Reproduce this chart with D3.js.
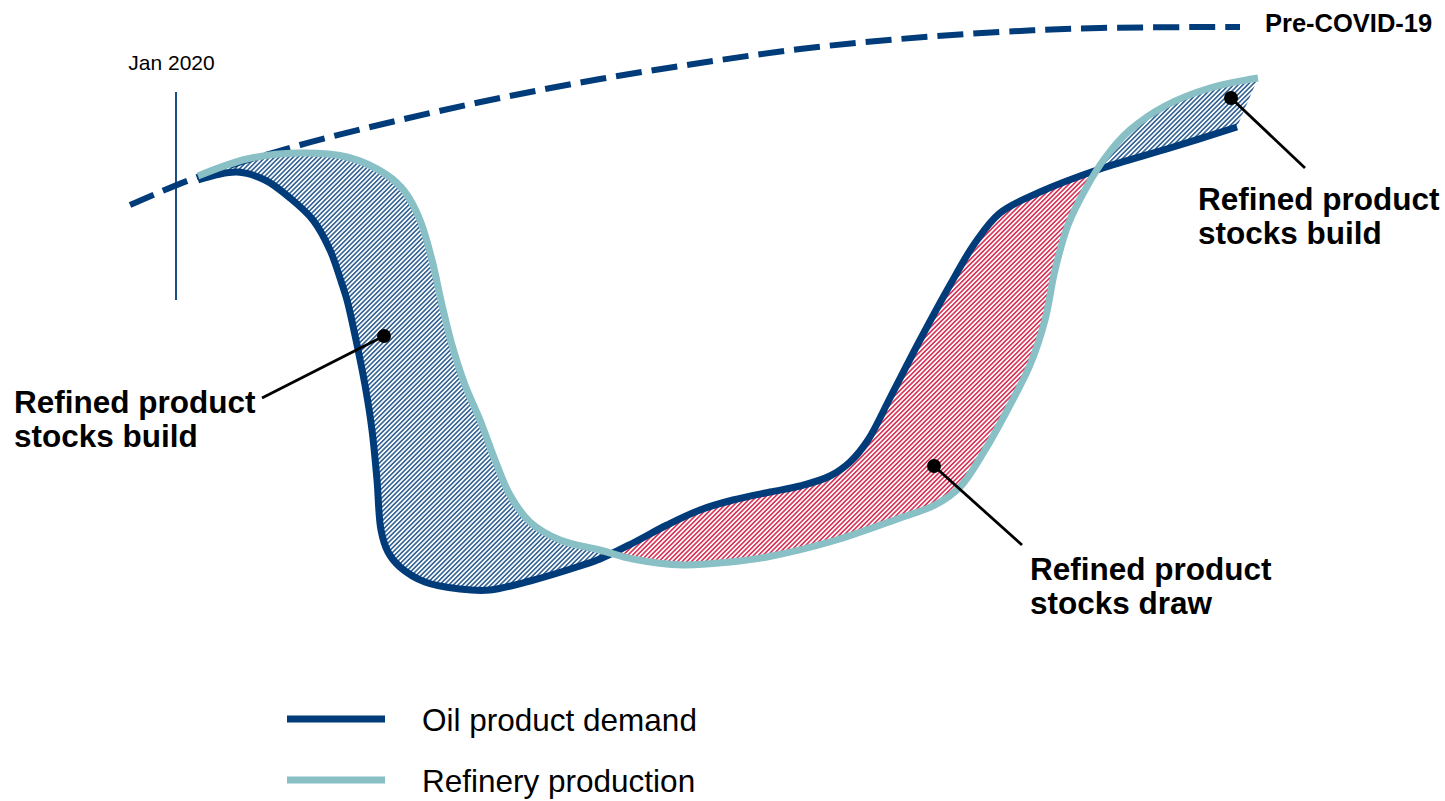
<!DOCTYPE html>
<html>
<head>
<meta charset="utf-8">
<script src="https://cdn.jsdelivr.net/npm/d3@7"></script>
<style>
  body { margin: 0; background: #fff; }
  svg { display: block; font-family: "Liberation Sans", Arial, sans-serif; }
</style>
</head>
<body>
<div id="chart"></div>
<script>
// schematic: weeks since start vs. product volume index
var demandWeeks = [6.8, 10.7, 13.5, 16.0, 18.3, 20.0, 21.0, 21.7, 22.6, 23.5, 24.2, 24.7, 25.1, 25.8, 27.0, 29.5, 33.0, 36.0, 40.0, 45.0, 47.0, 50.3, 53.7, 57.0, 60.3, 64.0, 67.0, 70.0, 72.0, 73.8, 76.0, 79.0, 82.0, 84.5, 87.0, 91.0, 97.0, 104.0, 110.7];
var demandLevel = [42.0, 42.8, 42.0, 40.2, 38.0, 35.0, 32.2, 30.0, 26.0, 21.5, 17.0, 12.0, 7.0, 4.8, 3.3, 1.8, 1.1, 1.0, 1.9, 3.4, 4.1, 5.7, 7.5, 9.0, 10.0, 10.8, 11.4, 12.4, 13.8, 16.0, 20.2, 26.0, 31.5, 35.7, 38.7, 40.8, 43.1, 45.2, 47.3];

var refineryWeeks = [6.8, 11.7, 16.7, 21.7, 25.7, 27.5, 29.0, 30.2, 31.2, 32.2, 33.5, 35.0, 36.5, 38.0, 40.0, 43.0, 47.0, 50.3, 55.3, 60.0, 63.7, 70.3, 77.0, 80.5, 83.0, 85.5, 88.0, 90.0, 91.5, 92.5, 93.8, 95.5, 97.5, 100.0, 103.5, 108.0, 112.8];
var refineryLevel = [42.4, 44.1, 44.7, 44.3, 42.5, 40.8, 38.0, 34.0, 29.5, 25.5, 21.5, 18.0, 14.0, 10.5, 7.8, 6.0, 5.0, 4.1, 3.5, 3.8, 4.3, 5.9, 8.2, 9.5, 11.3, 15.0, 19.5, 23.5, 28.0, 33.0, 37.5, 41.0, 44.2, 47.0, 49.4, 51.2, 52.2];

var preCovidWeeks = [0, 7.0, 17.0, 27.0, 37.0, 47.0, 57.0, 67.0, 77.0, 87.0, 97.0, 111.0];
var preCovidLevel = [39.5, 42.4, 45.5, 48.0, 50.2, 52.1, 53.7, 55.1, 56.1, 56.8, 57.2, 57.3];

var jan2020Week = 4.6;
var jan2020Span = [30.0, 50.8];

// annotation dots (week, level) and their labels
var noteWeeks = [25.4, 80.4, 110.1];
var noteLevels = [26.4, 13.4, 50.2];
var noteLabels = [
  ["Refined product", "stocks build"],
  ["Refined product", "stocks draw"],
  ["Refined product", "stocks build"]
];

var legendLabels = ["Oil product demand", "Refinery production"];

var navy = "#003b7a", teal = "#88c0c6", red = "#d0002c";

var width = 1445, height = 801;
var x = d3.scaleLinear().domain([0, 113]).range([130, 1260]);
var y = d3.scaleLinear().domain([0, 58]).range([600, 20]);

var svg = d3.select("#chart").append("svg")
    .attr("width", width)
    .attr("height", height);

var defs = svg.append("defs");
function hatch(id, color) {
    var p = defs.append("pattern")
        .attr("id", id)
        .attr("patternUnits", "userSpaceOnUse")
        .attr("width", 3.3)
        .attr("height", 3.3)
        .attr("patternTransform", "rotate(45)");
    p.append("line")
        .attr("x1", 1.65).attr("y1", 0)
        .attr("x2", 1.65).attr("y2", 3.3)
        .attr("stroke", color)
        .attr("stroke-width", 1.3);
}
hatch("hatch-build", navy);
hatch("hatch-draw", red);

var line = d3.line()
    .x(function(d) { return x(d[0]); })
    .y(function(d) { return y(d[1]); })
    .curve(d3.curveCatmullRom.alpha(0.5));

var demand = d3.zip(demandWeeks, demandLevel);
var refinery = d3.zip(refineryWeeks, refineryLevel);
var preCovid = d3.zip(preCovidWeeks, preCovidLevel);

var lines = svg.append("g").attr("class", "lines");

// draw the two curves first so they can be sampled for the filled gap
var demandPath = lines.append("path")
    .attr("d", line(demand))
    .attr("fill", "none")
    .attr("stroke", navy)
    .attr("stroke-width", 7);
var refineryPath = lines.append("path")
    .attr("d", line(refinery))
    .attr("fill", "none")
    .attr("stroke", teal)
    .attr("stroke-width", 7);

function sample(path) {
    var node = path.node(), len = node.getTotalLength(), pts = [];
    for (var l = 0; l <= len; l += 1) {
        var p = node.getPointAtLength(l);
        pts.push([p.x, p.y]);
    }
    var e = node.getPointAtLength(len);
    pts.push([e.x, e.y]);
    return pts;
}
var dPts = sample(demandPath), rPts = sample(refineryPath);

function yAt(pts, px) {
    for (var i = 1; i < pts.length; i++) {
        var a = pts[i - 1], b = pts[i];
        if ((a[0] - px) * (b[0] - px) <= 0 && a[0] !== b[0]) {
            return a[1] + (b[1] - a[1]) * (px - a[0]) / (b[0] - a[0]);
        }
    }
    return null;
}

// find where the two curves swap sides
var x0 = Math.max(dPts[0][0], rPts[0][0]) + 5;
var x1 = Math.min(dPts[dPts.length - 1][0], rPts[rPts.length - 1][0]) - 1;
var crossings = [], prev = null;
for (var px = x0; px <= x1; px += 0.5) {
    var s = yAt(dPts, px) - yAt(rPts, px);
    if (prev !== null && s * prev < 0) crossings.push(px);
    prev = s;
}

var gap = "M" + dPts.concat(rPts.slice().reverse()).join("L") + "Z";

defs.append("clipPath").attr("id", "clip-draw")
    .append("rect")
    .attr("x", crossings[0]).attr("y", 0)
    .attr("width", crossings[1] - crossings[0]).attr("height", height);
var buildClip = defs.append("clipPath").attr("id", "clip-build");
buildClip.append("rect")
    .attr("x", 0).attr("y", 0)
    .attr("width", crossings[0]).attr("height", height);
buildClip.append("rect")
    .attr("x", crossings[1]).attr("y", 0)
    .attr("width", width - crossings[1]).attr("height", height);

var fills = svg.insert("g", ".lines").attr("class", "fills");
fills.append("path")
    .attr("d", gap)
    .attr("fill", "url(#hatch-build)")
    .attr("clip-path", "url(#clip-build)");
fills.append("path")
    .attr("d", gap)
    .attr("fill", "url(#hatch-draw)")
    .attr("clip-path", "url(#clip-draw)");

// pre-covid trend under the solid lines
lines.insert("path", ":first-child")
    .attr("d", line(preCovid))
    .attr("fill", "none")
    .attr("stroke", navy)
    .attr("stroke-width", 6)
    .attr("stroke-dasharray", "26 10");

svg.append("text")
    .attr("x", 1265).attr("y", 32)
    .attr("font-size", 25.5).attr("font-weight", "bold")
    .text("Pre-COVID-19");

// Jan 2020 marker
svg.append("line")
    .attr("x1", x(jan2020Week)).attr("x2", x(jan2020Week))
    .attr("y1", y(jan2020Span[0])).attr("y2", y(jan2020Span[1]))
    .attr("stroke", navy).attr("stroke-width", 1.8);
svg.append("text")
    .attr("x", 171.5).attr("y", 70)
    .attr("text-anchor", "middle")
    .attr("font-size", 21)
    .text("Jan 2020");

// annotations
var labelPos = [
    {lx: 14, ly: 413, ex: 262, ey: 398},
    {lx: 1030, ly: 580, ex: 1022, ey: 545},
    {lx: 1198, ly: 210, ex: 1305, ey: 168}
];
var notes = svg.append("g").attr("class", "notes");
noteLabels.forEach(function(lab, i) {
    var cx = x(noteWeeks[i]), cy = y(noteLevels[i]), p = labelPos[i];
    notes.append("line")
        .attr("x1", cx).attr("y1", cy)
        .attr("x2", p.ex).attr("y2", p.ey)
        .attr("stroke", "#000").attr("stroke-width", 2.8);
    notes.append("circle")
        .attr("cx", cx).attr("cy", cy).attr("r", 7)
        .attr("fill", "#000");
    var t = notes.append("text")
        .attr("x", p.lx).attr("y", p.ly)
        .attr("font-size", 31.5).attr("font-weight", "bold");
    lab.forEach(function(s, j) {
        t.append("tspan").attr("x", p.lx).attr("dy", j ? 34 : 0).text(s);
    });
});

// legend
var legend = svg.append("g").attr("class", "legend");
[navy, teal].forEach(function(c, i) {
    var ly = 719 + i * 61;
    legend.append("line")
        .attr("x1", 287).attr("x2", 385)
        .attr("y1", ly).attr("y2", ly)
        .attr("stroke", c).attr("stroke-width", 7);
    legend.append("text")
        .attr("x", 422).attr("y", ly + 12)
        .attr("font-size", 31.5)
        .text(legendLabels[i]);
});
</script>
</body>
</html>
